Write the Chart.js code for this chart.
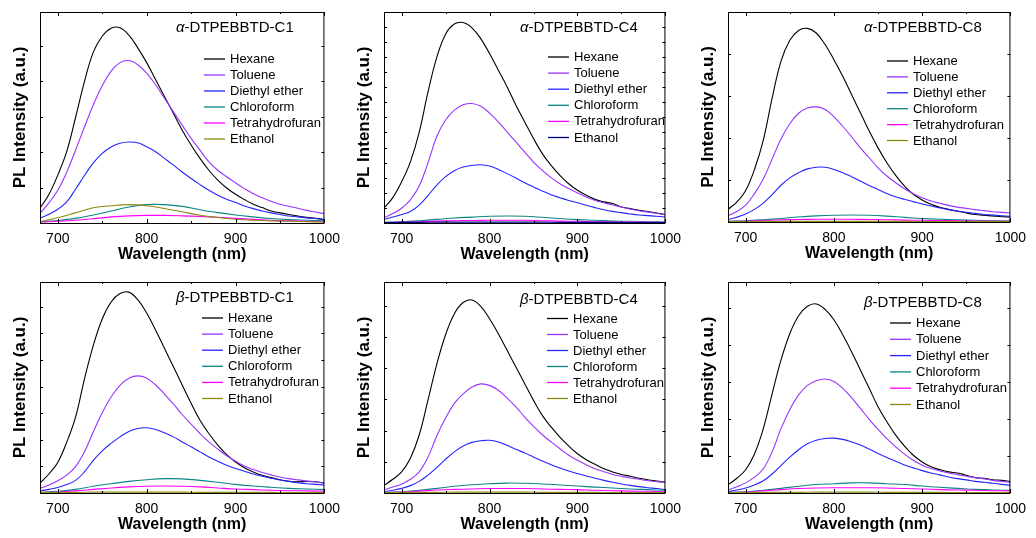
<!DOCTYPE html>
<html>
<head>
<meta charset="utf-8">
<script src="https://cdn.jsdelivr.net/npm/chart.js@4.4.0/dist/chart.umd.min.js"></script>
<style>
  html, body { margin: 0; padding: 0; background: #fff; }
  #wrap { position: relative; width: 1036px; height: 538px; overflow: hidden; }
  #wrap canvas { position: absolute; }
</style>
</head>
<body>
<div id="wrap"></div>
<script>
// emission wavelengths (nm)
const wavelength = [680, 690, 700, 710, 720, 730, 740, 750, 760, 770, 780, 790, 800, 810, 820, 830, 840,
                    850, 860, 870, 880, 890, 900, 910, 920, 930, 940, 950, 960, 970, 980, 990, 1000]
const wavelengthCoarse = [680, 700, 720, 740, 760, 780, 800, 820, 840, 860, 880, 900, 920, 940, 960, 980, 1000]

const xTickValues = [700, 800, 900, 1000]
const xMinorValues = [750, 850, 950]

const solvents = ['Hexane', 'Toluene', 'Diethyl ether', 'Chloroform', 'Tetrahydrofuran', 'Ethanol']

// alpha-DTPEBBTD-C1
const aC1Hexane = [7, 13.5, 22.7, 33.8, 50, 67, 81, 88.5, 92.3, 92.5, 89, 83, 76, 68, 60, 52, 44, 37, 30.6, 25, 20.3, 16.6, 13.6, 11.1, 8.9, 7.3, 5.7, 4.8, 4, 3.3, 2.7, 2.2, 1.6]
const aC1Toluene = [4.5, 9.5, 15.5, 24, 34.5, 45.5, 56, 65, 72, 76, 77, 75, 71, 65.5, 59.1, 52.8, 46.4, 40.1, 34.5, 29, 25, 21.9, 19, 16.3, 13.9, 12, 10.3, 8.9, 7.9, 7, 6, 5.2, 4.4]
const aC1Ether = [2.2, 4.2, 6.5, 10, 16, 22.5, 28.5, 33, 36, 37.8, 38.4, 38, 36.1, 33.8, 30.6, 27.4, 24.2, 21.1, 18.2, 15.5, 13.2, 11.3, 9.7, 8.1, 6.8, 5.7, 4.8, 4, 3.3, 2.9, 2.4, 2.1, 1.6]
const aC1Chloroform = [0.6, 1.2, 2.2, 3.8, 5.7, 7.6, 8.7, 8.7, 7.9, 6.3, 4.9, 3.8, 2.9, 2.1, 1.6, 1.3, 1]
const aC1Thf = [0.4, 0.8, 1.3, 2, 2.9, 3.4, 3.6, 3.6, 3.4, 3.1, 2.7, 2.2, 1.7, 1.3, 1, 0.8, 0.6]
const aC1Ethanol = [0.6, 2.5, 4.8, 7.2, 8.2, 8.7, 8.2, 6.9, 5.3, 3.7, 2.6, 1.8, 1.3, 1, 0.8, 0.6, 0.5]

// alpha-DTPEBBTD-C4
const aC4Hexane = [7, 12, 19.5, 29, 43, 62, 78.5, 89.5, 94.3, 95, 92.5, 87.4, 80.3, 72.4, 64.5, 55.8, 47.9, 40, 32.9, 27.3, 22.6, 18.6, 15.5, 13.1, 11.2, 10, 9.2, 7.6, 6.8, 6, 5.4, 4.7, 3.9]
const aC4Toluene = [2.5, 4.5, 7, 11, 17.5, 28.5, 41, 48.8, 53.5, 56, 56.6, 55.3, 52.1, 47.9, 43.1, 38.4, 33.6, 28.9, 25, 21.5, 18.6, 16.3, 14.2, 12.3, 10.7, 9.6, 8.5, 7.6, 6.6, 5.8, 5.2, 4.6, 3.9]
const aC4Ether = [1.7, 2.8, 4, 5.5, 8.5, 13, 18, 22, 24.8, 26.5, 27.3, 27.6, 27, 25.4, 23.4, 21.3, 19.1, 17.1, 15.2, 13.4, 12, 10.7, 9.6, 8.4, 7.3, 6.3, 5.5, 4.9, 4.3, 3.8, 3.5, 3.2, 2.8]
const aC4Chloroform = [0.3, 0.6, 1.1, 1.7, 2.4, 2.8, 3.2, 3.3, 3.2, 2.7, 2.1, 1.6, 1.3, 0.9, 0.8, 0.6, 0.5]
const aC4Thf = [0.2, 0.4, 0.6, 0.9, 1.1, 1.2, 1.3, 1.3, 1.3, 1.1, 0.9, 0.8, 0.6, 0.5, 0.5, 0.4, 0.3]
const aC4Ethanol = [0.2, 0.3, 0.3, 0.4, 0.4, 0.4, 0.4, 0.4, 0.4, 0.4, 0.3, 0.3, 0.3, 0.3, 0.2, 0.2, 0.2]

// alpha-DTPEBBTD-C8
const aC8Hexane = [6, 9.5, 15, 25, 39, 59, 76.5, 86.5, 91.2, 92.2, 90, 84.5, 77.3, 69.4, 60.7, 52, 43.3, 35.3, 28.2, 22.2, 17.1, 13.2, 10.5, 8.4, 7, 6, 5.1, 4.3, 3.6, 3.2, 2.9, 2.5, 2.4]
const aC8Toluene = [3, 5, 8, 13.5, 20.5, 30, 39.5, 46.8, 51.8, 54.3, 54.8, 53.6, 50.1, 45.6, 40.6, 35.3, 30.6, 25.8, 21.9, 18.7, 15.8, 13.5, 11.6, 10, 8.9, 7.9, 7.1, 6.5, 5.9, 5.4, 4.9, 4.6, 4.3]
const aC8Ether = [1.1, 2.3, 3.8, 6, 9, 13, 17.5, 21, 23.5, 25.3, 26.1, 26.1, 25, 23.5, 21.6, 19.5, 17.4, 15.5, 13.6, 12, 10.8, 9.7, 8.6, 7.6, 6.7, 5.9, 5.2, 4.6, 4.1, 3.6, 3.3, 3, 2.7]
const aC8Chloroform = [0.3, 0.6, 1.1, 1.7, 2.4, 2.9, 3.2, 3.3, 3.2, 2.8, 2.2, 1.7, 1.3, 1, 0.8, 0.6, 0.5]
const aC8Thf = [0.2, 0.4, 0.7, 1, 1.2, 1.3, 1.3, 1.3, 1.2, 1.1, 0.9, 0.8, 0.7, 0.6, 0.5, 0.4, 0.4]
const aC8Ethanol = [0.2, 0.2, 0.3, 0.3, 0.3, 0.3, 0.3, 0.3, 0.3, 0.3, 0.3, 0.2, 0.2, 0.2, 0.2, 0.2, 0.2]

// beta-DTPEBBTD-C1
const bC1Hexane = [4.6, 9, 14.5, 24, 36, 54, 70, 82.5, 90.5, 94.5, 95.2, 91.6, 85.3, 77.3, 68.6, 59.9, 51.2, 42.5, 34.5, 28.2, 22.7, 18.2, 14.7, 12, 10, 8.4, 7.3, 6.3, 5.6, 5.3, 5.5, 5.3, 4.8]
const bC1Toluene = [2.2, 3.8, 5.8, 8.5, 12.5, 19.5, 29, 38, 45.5, 51, 54.4, 55.5, 54.4, 51.2, 46.9, 42.2, 37.2, 32.6, 28.2, 24.2, 20.8, 17.6, 15.1, 12.8, 11.1, 9.7, 8.6, 7.6, 6.8, 6.2, 5.7, 5.2, 4.6]
const bC1Ether = [1, 1.7, 2.6, 4, 6, 10, 15.5, 20, 23.5, 26.6, 29.2, 30.6, 30.9, 30.1, 28.5, 26.6, 24.2, 21.9, 19.5, 17.1, 15.1, 13.2, 11.6, 10.3, 9, 7.9, 7, 6.2, 5.5, 4.9, 4.4, 4.1, 3.8]
const bC1Chloroform = [0.3, 0.8, 1.7, 3.2, 4.4, 5.5, 6.3, 6.8, 6.7, 6, 5.1, 4.1, 3.3, 2.7, 2.2, 1.9, 1.6]
const bC1Thf = [0.2, 0.5, 1, 1.7, 2.4, 2.9, 3.2, 3.3, 3.2, 2.9, 2.4, 1.9, 1.6, 1.3, 1.1, 1, 0.8]
const bC1Ethanol = [0.2, 0.3, 0.3, 0.4, 0.4, 0.4, 0.4, 0.4, 0.4, 0.3, 0.3, 0.3, 0.3, 0.3, 0.2, 0.2, 0.2]

// beta-DTPEBBTD-C4
const bC4Hexane = [3.5, 6.5, 10, 16.5, 27.5, 44, 61, 75, 85, 90.3, 91.5, 88.5, 82.6, 75.5, 67.6, 59.7, 51.8, 43.9, 36.8, 31.3, 26.5, 22.3, 18.6, 15.8, 13.6, 11.5, 10, 8.8, 7.9, 7, 6.3, 5.7, 5.1]
const bC4Toluene = [1.4, 2.8, 4.2, 6.5, 10, 17, 27, 35.5, 42.5, 47, 50.2, 51.7, 51, 48.7, 45, 40.8, 36, 31.6, 27.6, 24.2, 21, 17.9, 15.5, 13.4, 11.5, 10.1, 8.8, 7.9, 7.1, 6.5, 5.8, 5.4, 5.1]
const bC4Ether = [0.6, 1.3, 2.2, 3.5, 5.5, 8.5, 12, 16, 19.5, 22.3, 24, 24.8, 25, 24.2, 22.6, 20.7, 19, 17.1, 15.2, 13.4, 11.8, 10.4, 9.2, 8.1, 7, 6, 5.1, 4.3, 3.6, 3, 2.5, 2.1, 1.6]
const bC4Chloroform = [0.3, 0.6, 1.3, 2.2, 3.2, 3.9, 4.4, 4.7, 4.6, 4.3, 3.8, 3.3, 2.8, 2.4, 1.9, 1.6, 1.3]
const bC4Thf = [0.2, 0.5, 0.9, 1.4, 1.7, 1.9, 2.1, 2.1, 2.1, 1.9, 1.7, 1.6, 1.3, 1.1, 0.9, 0.8, 0.6]
const bC4Ethanol = [0.2, 0.3, 0.3, 0.3, 0.4, 0.4, 0.4, 0.4, 0.4, 0.3, 0.3, 0.3, 0.3, 0.2, 0.2, 0.2, 0.2]

// beta-DTPEBBTD-C8
const bC8Hexane = [3.8, 7, 11, 18.5, 30.5, 47, 63, 75.5, 84, 88.5, 89.6, 87, 82.1, 75, 67, 58.3, 49.6, 40.9, 33.8, 27.4, 22.2, 17.9, 14.7, 12.4, 11.1, 10, 9.5, 8.4, 7.3, 7, 6.3, 6, 5.5]
const bC8Toluene = [1.4, 3, 4.8, 7.5, 11.5, 19.5, 30.5, 39.5, 46.5, 51, 53.2, 54, 52.8, 49.6, 45.2, 40.1, 34.9, 30.1, 25.8, 21.9, 18.4, 15.5, 13.2, 11.6, 10.5, 9.5, 8.7, 7.9, 7.3, 6.7, 6, 5.5, 5.1]
const bC8Ether = [0.6, 1.4, 2.4, 3.8, 5.8, 9, 13, 17, 20.5, 23.3, 25, 25.8, 26, 25.4, 24.2, 22.7, 20.8, 18.7, 16.8, 15.1, 13.3, 11.9, 10.6, 9.5, 8.6, 7.6, 6.8, 6.2, 5.5, 5.1, 4.6, 4.1, 3.6]
const bC8Chloroform = [0.3, 0.6, 1.3, 2.2, 3.2, 4, 4.4, 4.8, 4.8, 4.4, 4, 3.3, 2.7, 2.2, 1.7, 1.4, 1.3]
const bC8Thf = [0.2, 0.5, 1, 1.6, 2.1, 2.4, 2.5, 2.5, 2.5, 2.4, 2.1, 1.9, 1.6, 1.4, 1.3, 1.1, 1]
const bC8Ethanol = [0.2, 0.3, 0.3, 0.3, 0.3, 0.4, 0.4, 0.4, 0.4, 0.3, 0.3, 0.3, 0.3, 0.2, 0.2, 0.2, 0.2]

const FONT = 'Arial, "Liberation Sans", Helvetica, sans-serif'
const colors = ['#000000', '#9a33ff', '#2424ff', '#0a8585', '#ff00ff', '#8a8a10']

// panel boxes are the plot frames in page pixels: [left, top, right, bottom]
const panels = [
    { greek: 'α', name: '-DTPEBBTD-C1', box: [40, 12, 330, 223], ystep: 16.8,
      legend: [164, 47, 16], titleY: 16,
      series: [aC1Hexane, aC1Toluene, aC1Ether, aC1Chloroform, aC1Thf, aC1Ethanol] },
    { greek: 'α', name: '-DTPEBBTD-C4', box: [384, 12, 671, 223], ystep: 7.15,
      legend: [164, 45, 16.1], titleY: 16, ethanolColor: '#000080',
      series: [aC4Hexane, aC4Toluene, aC4Ether, aC4Chloroform, aC4Thf, aC4Ethanol] },
    { greek: 'α', name: '-DTPEBBTD-C8', box: [728, 12, 1016, 222], ystep: 20,
      legend: [159, 49, 15.9], titleY: 16,
      series: [aC8Hexane, aC8Toluene, aC8Ether, aC8Chloroform, aC8Thf, aC8Ethanol] },
    { greek: 'β', name: '-DTPEBBTD-C1', box: [40, 282, 330, 493], ystep: 12.6,
      legend: [162, 36, 16.1], titleY: 16,
      series: [bC1Hexane, bC1Toluene, bC1Ether, bC1Chloroform, bC1Thf, bC1Ethanol] },
    { greek: 'β', name: '-DTPEBBTD-C4', box: [384, 282, 671, 493], ystep: 14.8,
      legend: [163, 36.5, 16], titleY: 17.5,
      series: [bC4Hexane, bC4Toluene, bC4Ether, bC4Chloroform, bC4Thf, bC4Ethanol] },
    { greek: 'β', name: '-DTPEBBTD-C8', box: [728, 282, 1016, 493], ystep: 17.5,
      legend: [162, 41, 16.3], titleY: 21,
      series: [bC8Hexane, bC8Toluene, bC8Ether, bC8Chloroform, bC8Thf, bC8Ethanol] }
]

// frame with inward ticks on all four sides
const frameTicks = {
    id: 'frameTicks',
    afterDatasetsDraw(chart, args, opts) {
        const { ctx, chartArea: a, scales: { x, y } } = chart
        ctx.save()
        ctx.strokeStyle = '#000'
        ctx.lineWidth = 1
        ctx.beginPath()
        const tick = (px, len) => {
            px = Math.round(px) + 0.5
            ctx.moveTo(px, a.bottom); ctx.lineTo(px, a.bottom - len)
            ctx.moveTo(px, a.top); ctx.lineTo(px, a.top + len)
        }
        xTickValues.forEach(v => tick(x.getPixelForValue(v), 4))
        xMinorValues.forEach(v => tick(x.getPixelForValue(v), 2))
        for (let v = opts.step; v < y.max - 1; v += opts.step) {
            const py = Math.round(y.getPixelForValue(v)) + 0.5
            ctx.moveTo(a.left, py); ctx.lineTo(a.left + 3, py)
            ctx.moveTo(a.right, py); ctx.lineTo(a.right - 3, py)
        }
        ctx.stroke()
        ctx.strokeRect(a.left + 0.5, a.top + 0.5, a.right - a.left - 1, a.bottom - a.top)
        ctx.restore()
    }
}

// sample name and solvent key inside the plot
const insideLegend = {
    id: 'insideLegend',
    afterDraw(chart, args, opts) {
        const { ctx, chartArea: a } = chart
        ctx.save()
        ctx.textBaseline = 'middle'
        ctx.fillStyle = '#000'
        const tx = a.left + 136, ty = a.top + opts.titleY
        ctx.font = 'italic 15px ' + FONT
        ctx.fillText(opts.greek, tx, ty)
        const gw = ctx.measureText(opts.greek).width
        ctx.font = '15px ' + FONT
        ctx.fillText(opts.name, tx + gw, ty)

        const [lx, ly, gap] = opts.legend
        ctx.font = '13px ' + FONT
        const byOrder = chart.data.datasets.slice().sort((d1, d2) => d1.key - d2.key)
        byOrder.forEach((ds, i) => {
            const yy = a.top + ly + i * gap
            ctx.strokeStyle = ds.borderColor
            ctx.lineWidth = 1.3
            ctx.beginPath()
            ctx.moveTo(a.left + lx, yy)
            ctx.lineTo(a.left + lx + 21, yy)
            ctx.stroke()
            ctx.fillText(ds.label, a.left + lx + 26, yy + 0.5)
        })
        ctx.restore()
    }
}

const wrap = document.getElementById('wrap')

panels.forEach(p => {
    const [L, T, R, B] = p.box
    const canvas = document.createElement('canvas')
    canvas.width = R - L + 58
    canvas.height = B - T + 58
    canvas.style.left = (L - 40) + 'px'
    canvas.style.top = (T - 12) + 'px'
    wrap.appendChild(canvas)

    // weakest emitters first, so Hexane ends up on top
    const datasets = p.series.map((vals, i) => {
        const xs = vals.length === wavelength.length ? wavelength : wavelengthCoarse
        let color = colors[i]
        if (i === 5 && p.ethanolColor) color = p.ethanolColor
        return {
            key: i,
            label: solvents[i],
            data: xs.map((w, k) => ({ x: w, y: vals[k] })),
            borderColor: color,
            borderWidth: 1.1,
            pointRadius: 0,
            tension: 0.4,
            fill: false
        }
    }).reverse()

    new Chart(canvas, {
        type: 'line',
        data: { datasets },
        options: {
            responsive: false,
            animation: false,
            devicePixelRatio: 1,
            layout: { padding: { top: 12, right: 18, left: 0, bottom: 0 } },
            plugins: {
                legend: { display: false },
                tooltip: { enabled: false },
                frameTicks: { step: p.ystep },
                insideLegend: { greek: p.greek, name: p.name, legend: p.legend, titleY: p.titleY }
            },
            scales: {
                x: {
                    type: 'linear', min: 680, max: 1000,
                    grid: { display: false, drawTicks: false },
                    border: { display: false },
                    afterBuildTicks: s => { s.ticks = xTickValues.map(v => ({ value: v })) },
                    afterFit: s => { s.height = 46 },
                    ticks: { color: '#000', padding: 8, maxRotation: 0, autoSkip: false,
                             callback: v => String(v),
                             font: { family: FONT, size: 14 } },
                    title: { display: true, text: 'Wavelength (nm)', color: '#000',
                             font: { family: FONT, size: 16, weight: 'bold' },
                             padding: { top: 0, bottom: 5 } }
                },
                y: {
                    type: 'linear', min: 0, max: 100,
                    grid: { display: false, drawTicks: false },
                    border: { display: false },
                    ticks: { display: false },
                    afterFit: s => { s.width = 40 },
                    title: { display: true, text: 'PL Intensity (a.u.)', color: '#000',
                             font: { family: FONT, size: 17, weight: 'bold' },
                             padding: { top: 10, bottom: 0 } }
                }
            }
        },
        plugins: [frameTicks, insideLegend]
    })
})
</script>
</body>
</html>
